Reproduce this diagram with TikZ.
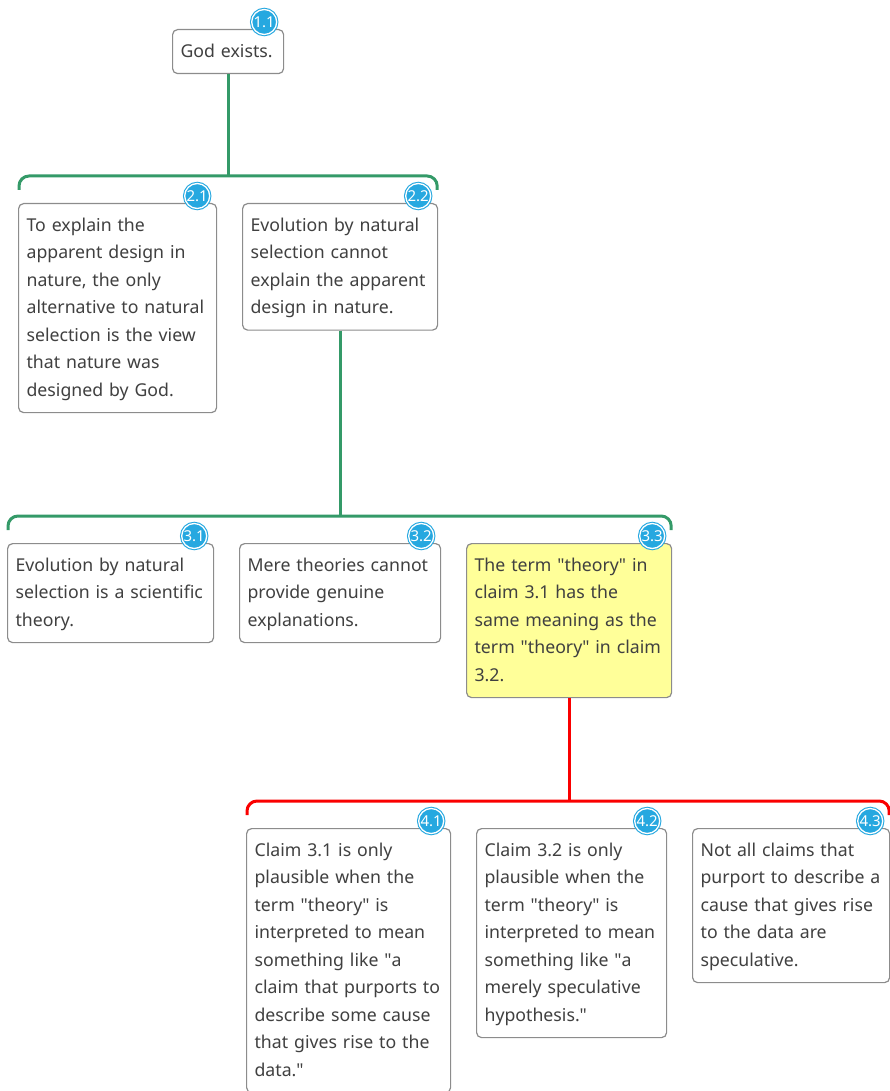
\documentclass[tikz,border=0pt]{standalone}
\usepackage{fontspec}
\setmainfont{Noto Sans}
\usetikzlibrary{calc}
\definecolor{linkgreen}{RGB}{52,154,104}
\definecolor{linkred}{RGB}{250,0,0}
\definecolor{badgeblue}{RGB}{38,168,224}
\definecolor{boxgray}{RGB}{140,140,140}
\definecolor{textgray}{RGB}{64,64,64}
\definecolor{claimyellow}{RGB}{255,255,153}
\newcommand{\q}{\textquotedbl}

\begin{document}
\begin{tikzpicture}[
  x=1pt, y=1pt,
  every node/.style={font=\fontsize{17.7}{27.5}\selectfont, text=textgray},
  claim/.style 2 args={draw=boxgray, line width=1.2pt, rounded corners=5pt,
               fill=white, anchor=north west, align=left, inner xsep=8pt,
               inner ysep=0pt, text width=#1, minimum height=#2,
               execute at begin node=\strut, execute at end node=\strut},
  badge/.style={circle, fill=badgeblue, draw=badgeblue, double=white,
               double distance=1.3pt, line width=1.1pt, minimum size=25pt,
               inner sep=0pt, text=white, font=\bfseries\fontsize{15}{15}\selectfont},
  link/.style={line width=3pt, rounded corners=10pt},
]
\useasboundingbox (0,0) rectangle (889,-1091);

% level 1
\node[claim={95pt}{44pt}] (c11) at (172,-29) {God exists.};

% level 2
\node[claim={182pt}{209pt}] (c21) at (18,-203)
  {To explain the\\apparent design in\\nature, the only\\alternative to natural\\selection is the view\\that nature was\\designed by God.};
\node[claim={179pt}{126.5pt}] (c22) at (242,-203)
  {Evolution by natural\\selection cannot\\explain the apparent\\design in nature.};

% level 3
\node[claim={190pt}{99pt}] (c31) at (7,-543)
  {Evolution by natural\\selection is a scientific\\theory.};
\node[claim={185pt}{99pt}] (c32) at (239,-543)
  {Mere theories cannot\\provide genuine\\explanations.};
\node[claim={189pt}{154pt}, fill=claimyellow] (c33) at (466,-543)
  {The term \q theory\q\ in\\claim 3.1 has the\\same meaning as the\\term \q theory\q\ in claim\\3.2.};

% level 4
\node[claim={188pt}{264pt}] (c41) at (246,-828)
  {Claim 3.1 is only\\plausible when the\\term \q theory\q\ is\\interpreted to mean\\something like \q a\\claim that purports to\\describe some cause\\that gives rise to the\\data.\q};
\node[claim={174pt}{209pt}] (c42) at (476,-828)
  {Claim 3.2 is only\\plausible when the\\term \q theory\q\ is\\interpreted to mean\\something like \q a\\merely speculative\\hypothesis.\q};
\node[claim={181pt}{154pt}] (c43) at (692,-828)
  {Not all claims that\\purport to describe a\\cause that gives rise\\to the data are\\speculative.};

% brackets and stems
\draw[link, linkgreen] (c11.south) -- ($(c11.south |- c21.north)+(0,27)$);
\draw[link, linkgreen] ($(c21.north west)+(1,13)$) |- ($(c22.north east)+(-1,27)$)
  -- ($(c22.north east)+(-1,13)$);
\draw[link, linkgreen] (c22.south) -- ($(c22.south |- c31.north)+(0,27)$);
\draw[link, linkgreen] ($(c31.north west)+(1,13)$) |- ($(c33.north east)+(-1,27)$)
  -- ($(c33.north east)+(-1,13)$);
\draw[link, linkred] (c33.south) -- ($(c33.south |- c41.north)+(0,27)$);
\draw[link, linkred] ($(c41.north west)+(1,13)$) |- ($(c43.north east)+(-1,27)$)
  -- ($(c43.north east)+(-1,13)$);

% badges
\foreach \c/\t in {c11/1.1, c21/2.1, c22/2.2, c31/3.1, c32/3.2, c33/3.3,
                   c41/4.1, c42/4.2, c43/4.3}
  \node[badge] (b\c) at ($(\c.north east)+(-20,7)$) {\t};
\end{tikzpicture}
\end{document}
